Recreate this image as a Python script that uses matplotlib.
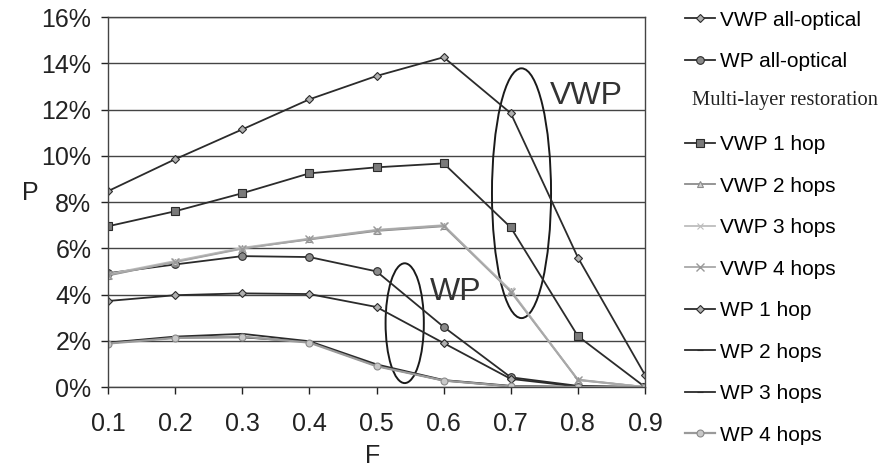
import matplotlib
matplotlib.use('Agg')
import matplotlib.pyplot as plt
from matplotlib.lines import Line2D
from matplotlib.patches import Ellipse
from matplotlib.ticker import FuncFormatter

plt.rcParams['font.family'] = ['Liberation Sans', 'DejaVu Sans']

# x values (F)
F = [0.1, 0.2, 0.3, 0.4, 0.5, 0.6, 0.7, 0.8, 0.9]

# P values in percent
vwp_all_optical = [8.47, 9.85, 11.14, 12.44, 13.45, 14.26, 11.84, 5.6, 0.52]
wp_all_optical = [4.92, 5.3, 5.66, 5.62, 5.0, 2.6, 0.42, 0.05, 0.0]
vwp_1hop = [6.95, 7.6, 8.38, 9.24, 9.5, 9.67, 6.9, 2.2, 0.0]
vwp_2hops = [4.82, 5.42, 6.0, 6.38, 6.75, 6.95, 4.15, 0.32, 0.0]
vwp_3hops = [4.88, 5.45, 6.02, 6.42, 6.8, 7.0, 4.18, 0.3, 0.0]
vwp_4hops = [4.85, 5.4, 5.98, 6.4, 6.78, 6.98, 4.12, 0.3, 0.0]
wp_1hop = [3.72, 3.97, 4.05, 4.02, 3.46, 1.9, 0.35, 0.02, 0.0]
wp_2hops = [1.92, 2.18, 2.3, 1.98, 0.98, 0.3, 0.05, 0.0, 0.0]
wp_3hops = [1.9, 2.14, 2.15, 1.95, 0.92, 0.28, 0.03, 0.0, 0.0]
wp_4hops = [1.88, 2.12, 2.18, 1.92, 0.9, 0.28, 0.03, 0.0, 0.0]

dark = '#2b2b2b'
mid = '#8c8c8c'
light = '#bdbdbd'

fig = plt.figure(figsize=(8.83, 4.71), dpi=100)
ax = fig.add_axes([0.1223, 0.1783, 0.6082, 0.7856])

h = {}
h['vwp_ao'], = ax.plot(F, vwp_all_optical, '-', color=dark, lw=1.3, marker='D', ms=4.5,
                       mfc='#b0b0b0', mec=dark, mew=0.8)
h['wp_ao'], = ax.plot(F, wp_all_optical, '-', color=dark, lw=1.3, marker='o', ms=5.5,
                      mfc='#8a8a8a', mec=dark, mew=0.8)
h['vwp1'], = ax.plot(F, vwp_1hop, '-', color=dark, lw=1.3, marker='s', ms=6,
                     mfc='#7a7a7a', mec=dark, mew=0.8)
h['vwp2'], = ax.plot(F, vwp_2hops, '-', color=mid, lw=1.3, marker='^', ms=5,
                     mfc='#d0d0d0', mec=mid, mew=0.8)
h['vwp3'], = ax.plot(F, vwp_3hops, '-', color=light, lw=1.3, marker='x', ms=5,
                     mfc=light, mec=light, mew=0.8)
h['vwp4'], = ax.plot(F, vwp_4hops, '-', color='#a8a8a8', lw=1.3, marker='x', ms=5.5,
                     mec='#999999', mew=1.0)
h['wp1'], = ax.plot(F, wp_1hop, '-', color=dark, lw=1.3, marker='D', ms=4.5,
                    mfc='#b0b0b0', mec=dark, mew=0.8)
h['wp2'], = ax.plot(F, wp_2hops, '-', color=dark, lw=1.3, marker='_', ms=5,
                    mec=dark, mew=0.8)
h['wp3'], = ax.plot(F, wp_3hops, '-', color=dark, lw=1.3, marker='_', ms=5,
                    mec=dark, mew=0.8)
h['wp4'], = ax.plot(F, wp_4hops, '-', color='#9a9a9a', lw=1.6, marker='o', ms=5,
                    mfc='#c8c8c8', mec='#8a8a8a', mew=0.8)

# grouping ellipses and labels
ax.add_patch(Ellipse((0.716, 8.38), 0.088, 10.8, fill=False, ec='#1a1a1a', lw=1.4))
ax.add_patch(Ellipse((0.542, 2.76), 0.057, 5.18, fill=False, ec='#1a1a1a', lw=1.4))
ax.text(0.758, 12.6, 'VWP', fontsize=23, color='#333333', va='center', ha='left')
ax.text(0.579, 4.1, 'WP', fontsize=23, color='#333333', va='center', ha='left')

ax.set_xlim(0.1, 0.9)
ax.set_ylim(0, 16)
ax.set_xticks(F)
ax.set_xticklabels(['%.1f' % v for v in F])
ax.set_yticks(range(0, 17, 2))
ax.yaxis.set_major_formatter(FuncFormatter(lambda v, p: '%d%%' % v))
ax.tick_params(labelsize=18, colors='#222222', length=5, width=1, direction='out')
ax.tick_params(axis='x', pad=13)
ax.tick_params(axis='y', pad=7)
ax.grid(axis='y', color='#444444', lw=1.0)
ax.set_axisbelow(True)
for s in ax.spines.values():
    s.set_color('#444444')
    s.set_linewidth(1.0)

fig.text(0.034, 0.590, 'P', fontsize=18, color='#222222', ha='center', va='center')
fig.text(0.422, 0.032, 'F', fontsize=18, color='#222222', ha='center', va='center')

blank = Line2D([], [], linestyle='none', marker=None)
handles = [h['vwp_ao'], h['wp_ao'], blank, h['vwp1'], h['vwp2'], h['vwp3'], h['vwp4'],
           h['wp1'], h['wp2'], h['wp3'], h['wp4']]
labels = ['VWP all-optical', 'WP all-optical', ' ', 'VWP 1 hop',
          'VWP 2 hops', 'VWP 3 hops', 'VWP 4 hops', 'WP 1 hop', 'WP 2 hops',
          'WP 3 hops', 'WP 4 hops']
leg = fig.legend(handles, labels, loc='upper left', bbox_to_anchor=(0.766, 0.995),
                 frameon=False, fontsize=15, handlelength=1.45, handletextpad=0.25,
                 labelspacing=1.08, borderaxespad=0)
fig.text(0.7837, 0.7856, 'Multi-layer restoration', fontsize=14.8, color='#222222',
         family=['Liberation Serif', 'DejaVu Serif'], ha='left', va='center')

fig.savefig('out.png', dpi=100)
